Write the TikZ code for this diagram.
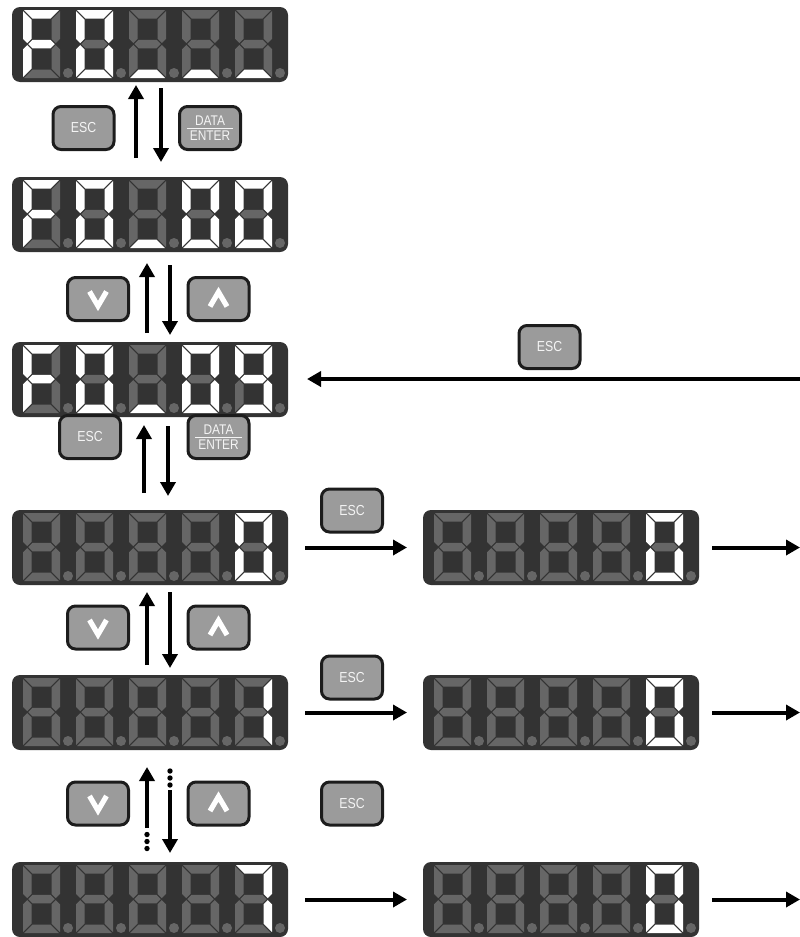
\documentclass[tikz,border=0pt]{standalone}
\usepackage{fontspec}
\setmainfont{Liberation Sans}
\newfontfamily\btnfont[FakeStretch=0.85]{Liberation Sans}
\usetikzlibrary{arrows.meta}
\definecolor{boxc}{HTML}{333333}
\definecolor{offc}{HTML}{666666}
\definecolor{btnc}{HTML}{9B9B9B}
\definecolor{btnb}{HTML}{1C1C1C}
\definecolor{txtc}{HTML}{F4F4F4}

\def\segpoly#1#2{\ifnum#1=1\relax\def\sc{white}\else\def\sc{offc}\fi
  \fill[fill=\sc,shift={(\dx,\dy)}] #2 -- cycle;}
\def\parsedig#1#2#3#4#5#6#7\relax{%
  \segpoly{#1}{(1,0)--(36,0)--(27.5,8.5)--(9.5,8.5)}%
  \segpoly{#2}{(37,1)--(37,28.75)--(32.75,33)--(28.5,28.75)--(28.5,9.5)}%
  \segpoly{#3}{(37,67)--(37,39.25)--(32.75,35)--(28.5,39.25)--(28.5,58.5)}%
  \segpoly{#4}{(1,68)--(36,68)--(27.5,59.5)--(9.5,59.5)}%
  \segpoly{#5}{(0,67)--(0,39.25)--(4.25,35)--(8.5,39.25)--(8.5,58.5)}%
  \segpoly{#6}{(0,1)--(0,28.75)--(4.25,33)--(8.5,28.75)--(8.5,9.5)}%
  \segpoly{#7}{(5.25,34)--(9.5,29.75)--(27.5,29.75)--(31.75,34)--(27.5,38.25)--(9.5,38.25)}%
}
\newcommand\sdigit[3]{\def\dx{#1}\def\dy{#2}\parsedig#3\relax}
\newcommand\sdisplay[8]{%
  \node[dispbox,anchor=north west] (#1) at (#2,#3) {};
  \sdigit{#2+11}{#3+3}{#4}%
  \sdigit{#2+64}{#3+3}{#5}%
  \sdigit{#2+117}{#3+3}{#6}%
  \sdigit{#2+170}{#3+3}{#7}%
  \sdigit{#2+223}{#3+3}{#8}%
  \foreach \k in {0,...,4} \fill[offc] (#2+56+53*\k,#3+66) circle[radius=5pt];
}
\newcommand\dataenter{\setbox0\hbox{ENTER}\dimen0=\wd0 \advance\dimen0 by 6pt
  \vbox{\hbox to\dimen0{\hss DATA\hss}\kern2.5pt\hrule height 1.3pt\kern2pt\hbox to\dimen0{\hss\box0\hss}}}

\begin{document}
\begin{tikzpicture}[x=1pt,y=-1pt,
  dispbox/.style={fill=boxc,rounded corners=8pt,minimum width=276pt,minimum height=75pt,inner sep=0pt,outer sep=0pt},
  btn/.style={draw=btnb,fill=btnc,line width=3pt,rounded corners=8pt,minimum width=61pt,minimum height=43pt,inner sep=0pt,text=txtc,font=\btnfont\fontsize{14.5}{14.5}\selectfont},
  btnde/.style={btn,font=\btnfont\fontsize{14}{14}\selectfont},
  chev/.style={draw=white,line width=5.2pt},
  arr/.style={line width=4pt,-{Triangle[width=15pt,length=14pt]}},
  dotc/.style={fill=black}]
\useasboundingbox (0,0) rectangle (800,937);

% displays
\sdisplay{D1}{12}{7}{1000111}{1111110}{0001000}{0001000}{0001000}
\sdisplay{D2}{12}{177}{1000111}{1111110}{0001000}{1111110}{1111110}
\sdisplay{D3}{12}{342}{1000111}{1111110}{0001000}{1111110}{1111011}
\sdisplay{D4}{12}{510}{0000000}{0000000}{0000000}{0000000}{1111110}
\sdisplay{D5}{12}{675}{0000000}{0000000}{0000000}{0000000}{0110000}
\sdisplay{D6}{12}{862}{0000000}{0000000}{0000000}{0000000}{1110000}
\sdisplay{R4}{423}{510}{0000000}{0000000}{0000000}{0000000}{1111110}
\sdisplay{R5}{423}{675}{0000000}{0000000}{0000000}{0000000}{1111110}
\sdisplay{R6}{423}{862}{0000000}{0000000}{0000000}{0000000}{1111110}

% buttons
\node[btn] (e1) at (83.5,128) {ESC};
\node[btnde] (de1) at (210,128) {\dataenter};
\node[btn] (dn2) at (98,299) {};
\node[btn] (up2) at (218.5,299) {};
\node[btn] (e3) at (90,437) {ESC};
\node[btnde] (de3) at (218.5,437) {\dataenter};
\node[btn] (dn4) at (98,627.5) {};
\node[btn] (up4) at (218.5,627.5) {};
\node[btn] (dn5) at (98,803.5) {};
\node[btn] (up5) at (218.5,803.5) {};
\node[btn] (er3) at (549.5,347) {ESC};
\node[btn] (er4) at (352,510.5) {ESC};
\node[btn] (er5) at (352,677.5) {ESC};
\node[btn] (er6) at (352,803.5) {ESC};

% chevrons
\foreach \b in {dn2,dn4,dn5}
  \draw[chev] ([shift={(-8.5,-7.5)}]\b.center) -- ([shift={(0,7)}]\b.center) -- ([shift={(8.5,-7.5)}]\b.center);
\foreach \b in {up2,up4,up5}
  \draw[chev] ([shift={(-8.5,7.5)}]\b.center) -- ([shift={(0,-7)}]\b.center) -- ([shift={(8.5,7.5)}]\b.center);

% vertical arrows
\coordinate (u1a) at (136,158); \coordinate (u1b) at (136,85);
\coordinate (d1a) at (161,88);  \coordinate (d1b) at (161,162);
\coordinate (u2a) at (147,333); \coordinate (u2b) at (147,263);
\coordinate (d2a) at (170,265); \coordinate (d2b) at (170,335);
\coordinate (u3a) at (144,493); \coordinate (u3b) at (144,425);
\coordinate (d3a) at (168,426); \coordinate (d3b) at (168,496);
\coordinate (u4a) at (147,665); \coordinate (u4b) at (147,592);
\coordinate (d4a) at (170,592); \coordinate (d4b) at (170,668);
\coordinate (u5a) at (147,828); \coordinate (u5b) at (147,767);
\coordinate (d5a) at (170,790); \coordinate (d5b) at (170,853);
\draw[arr] (u1a) -- (u1b);
\draw[arr] (d1a) -- (d1b);
\draw[arr] (u2a) -- (u2b);
\draw[arr] (d2a) -- (d2b);
\draw[arr] (u3a) -- (u3b);
\draw[arr] (d3a) -- (d3b);
\draw[arr] (u4a) -- (u4b);
\draw[arr] (d4a) -- (d4b);
\draw[arr] (u5a) -- (u5b);
\draw[arr] (d5a) -- (d5b);
\foreach \yy in {834.5,841.5,848.5} \fill[dotc] (147,\yy) circle[radius=2.7pt];
\foreach \yy in {771,778,785} \fill[dotc] (170,\yy) circle[radius=2.7pt];

% horizontal arrows
\coordinate (h3a) at (800,379); \coordinate (h3b) at (307,379);
\draw[arr] (h3a) -- (h3b);
\coordinate (h4a) at (305,547.5); \coordinate (h4b) at (407,547.5);
\coordinate (k4a) at (712,547.5); \coordinate (k4b) at (800,547.5);
\coordinate (h5a) at (305,712.5); \coordinate (h5b) at (407,712.5);
\coordinate (k5a) at (712,712.5); \coordinate (k5b) at (800,712.5);
\coordinate (h6a) at (305,899.5); \coordinate (h6b) at (407,899.5);
\coordinate (k6a) at (712,899.5); \coordinate (k6b) at (800,899.5);
\draw[arr] (h4a) -- (h4b);
\draw[arr] (k4a) -- (k4b);
\draw[arr] (h5a) -- (h5b);
\draw[arr] (k5a) -- (k5b);
\draw[arr] (h6a) -- (h6b);
\draw[arr] (k6a) -- (k6b);
\end{tikzpicture}
\end{document}
